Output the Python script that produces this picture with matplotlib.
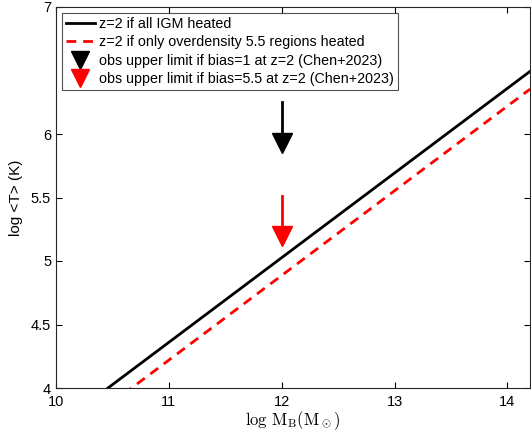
import matplotlib
matplotlib.use("Agg")
import matplotlib.pyplot as plt
import numpy as np

plt.rcParams['mathtext.fontset'] = 'cm'
plt.rcParams['font.family'] = ['Liberation Sans', 'DejaVu Sans']

# data
logM = np.array([10.0, 14.2])
logT_all = np.array([3.693, 6.493])      # z=2 all IGM heated (slope 2/3)
logT_over = np.array([3.553, 6.353])     # only overdensity 5.5 regions heated
obs_x = [12.0, 12.0]
obs_top = [6.25, 5.51]
obs_tip = [5.93, 5.20]
obs_colors = ['black', 'red']
obs_labels = ['obs upper limit if bias=1 at z=2 (Chen+2023)',
              'obs upper limit if bias=5.5 at z=2 (Chen+2023)']
xticks = [10, 11, 12, 13, 14]
yticks = [4, 4.5, 5, 5.5, 6, 7]

fig = plt.figure(figsize=(5.31, 4.33), dpi=100)
ax = fig.add_axes([56/531, 1-388/433, (530-56)/531, (388-7)/433])

ax.plot(logM, logT_all, color='black', lw=2, label='z=2 if all IGM heated')
ax.plot(logM, logT_over, color='red', lw=2, ls=(0, (3.5, 2.5)),
        label='z=2 if only overdensity 5.5 regions heated')
for x, t, tip, c, lab in zip(obs_x, obs_top, obs_tip, obs_colors, obs_labels):
    ax.plot([x, x], [t, tip], color=c, lw=2)
    ax.plot([x], [tip], marker='v', color=c, ms=15, ls='none', label=lab)

ax.set_xlim(10, 14.2)
ax.set_ylim(4, 7)
ax.set_xticks(xticks)
ax.set_yticks(yticks)
ax.set_yticklabels(['4', '4.5', '5', '5.5', '6', '7'])
ax.tick_params(direction='in', top=True, right=True, labelsize=10.5, length=4)
ax.tick_params(axis='x', pad=5)
for s in ax.spines.values():
    s.set_linewidth(0.8)
    s.set_color('#262626')
ax.set_xlabel(r'$\log\,\mathrm{M_B(M_\odot)}$', fontsize=12, labelpad=0)
ax.set_ylabel('log <T> (K)', fontsize=11, labelpad=6)

leg = ax.legend(loc='upper left', fontsize=10.3, frameon=True, fancybox=False,
                edgecolor='#262626', handlelength=2.0, handletextpad=0.3,
                labelspacing=0.3, borderaxespad=0.4, borderpad=0.3,
                markerscale=0.85)
leg.get_frame().set_linewidth(0.8)

fig.savefig('out.png', dpi=100)
